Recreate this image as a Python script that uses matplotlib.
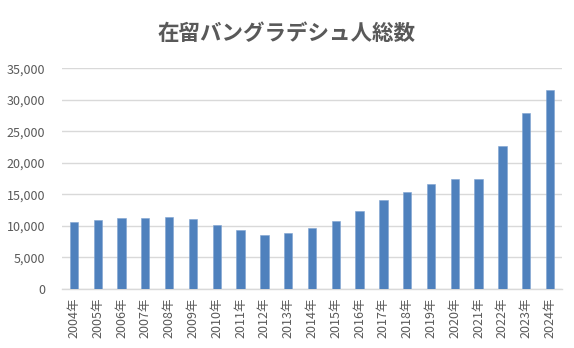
import matplotlib
matplotlib.use("Agg")
import matplotlib.pyplot as plt
from matplotlib.ticker import FuncFormatter

plt.rcParams['font.family'] = ['Noto Sans CJK JP', 'DejaVu Sans']

# data
years = [2004, 2005, 2006, 2007, 2008, 2009, 2010, 2011, 2012, 2013, 2014,
         2015, 2016, 2017, 2018, 2019, 2020, 2021, 2022, 2023, 2024]
residents = [10700, 10950, 11300, 11200, 11350, 11100, 10150, 9350, 8560, 8830, 9620,
             10780, 12310, 14050, 15420, 16590, 17380, 17480, 22660, 27890, 31490]
year_labels = [f"{y}年" for y in years]

bar_color = '#4F81BD'
text_color = '#595959'
grid_color = '#D9D9D9'

fig = plt.figure(figsize=(5.74, 3.48), dpi=100)
ax = fig.add_axes([0.108, 0.1695, 0.871, 0.6345])

x = list(range(len(years)))
ax.bar(x, residents, width=0.35, color=bar_color, edgecolor='#7FA3D1', linewidth=0.4, zorder=3)

ax.set_xlim(-0.5, len(years) - 0.5)
ax.set_ylim(0, 35000)
ax.set_yticks(range(0, 35001, 5000))
ax.yaxis.set_major_formatter(FuncFormatter(lambda v, p: f"{int(v):,}"))
ax.set_xticks(x)
ax.set_xticklabels(year_labels, rotation=90)

ax.grid(axis='y', color=grid_color, linewidth=1, zorder=0)
for side in ['top', 'right', 'left']:
    ax.spines[side].set_visible(False)
ax.spines['bottom'].set_color(grid_color)
ax.spines['bottom'].set_linewidth(1)
ax.tick_params(axis='both', length=0, labelsize=9, colors=text_color)
ax.tick_params(axis='y', pad=12)
ax.tick_params(axis='x', pad=6)

fig.text(0.5, 0.905, "在留バングラデシュ人総数", ha='center', va='center',
         fontsize=15.5, fontweight='bold', color=text_color)

fig.savefig("out.png", dpi=100, facecolor='white')
